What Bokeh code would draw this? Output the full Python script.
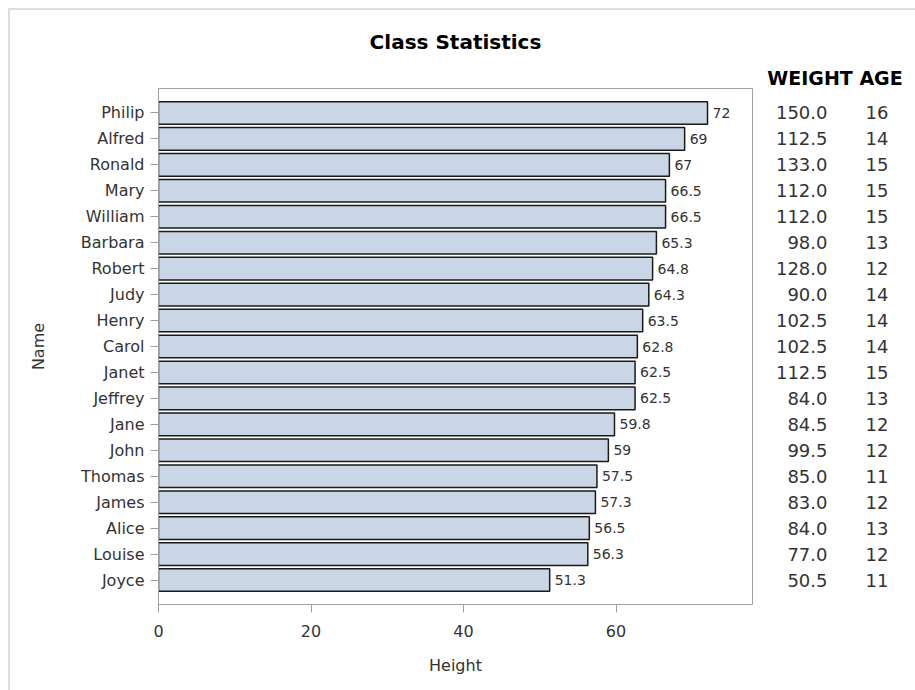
from bokeh.plotting import figure
from bokeh.models import FactorRange, Range1d, FixedTicker, ColumnDataSource, Title
from bokeh.layouts import row, column
from bokeh.core.properties import value
from bokeh.embed import file_html
from bokeh.resources import INLINE

# ---- data ----
names = ["Philip", "Alfred", "Ronald", "Mary", "William", "Barbara", "Robert",
         "Judy", "Henry", "Carol", "Janet", "Jeffrey", "Jane", "John", "Thomas",
         "James", "Alice", "Louise", "Joyce"]
heights = [72, 69, 67, 66.5, 66.5, 65.3, 64.8, 64.3, 63.5, 62.8, 62.5, 62.5,
           59.8, 59, 57.5, 57.3, 56.5, 56.3, 51.3]
weights = [150.0, 112.5, 133.0, 112.0, 112.0, 98.0, 128.0, 90.0, 102.5, 102.5,
           112.5, 84.0, 84.5, 99.5, 85.0, 83.0, 84.0, 77.0, 50.5]
ages = [16, 14, 15, 15, 15, 13, 12, 14, 14, 14, 15, 13, 12, 12, 11, 12, 13, 12, 11]
x_ticks = [0, 20, 40, 60]
title_text = "Class Statistics"
col_headers = ["WEIGHT", "AGE"]

FONT = "DejaVu Sans"
TXT = "#333333"
GRAY = "#a0a0a0"

src = ColumnDataSource(dict(
    name=names,
    height=heights,
    hlabel=[f"{v:g}" for v in heights],
    weight=[f"{w:.1f}" for w in weights],
    age=[str(a) for a in ages],
))

factors = names[::-1]
yr = FactorRange(factors=factors, range_padding=0.0466)

HEAD_H = 50
TOTAL_H = 680 - HEAD_H
TOP, BOTTOM = 78 - HEAD_H, 86
LEFT = 148
MAIN_W, TABLE_W = 744, 161

# ---- title strip ----
head = figure(width=MAIN_W + TABLE_W, height=HEAD_H,
              x_range=Range1d(0, 1), y_range=Range1d(0, 1),
              output_backend="svg", toolbar_location=None,
              x_axis_location=None, y_axis_location=None,
              min_border_left=LEFT, min_border_right=TABLE_W + 2,
              min_border_top=0, min_border_bottom=0)
head.grid.visible = False
head.outline_line_color = None
head.text(x=[0.5], y=[0.38], text=[title_text], text_align="center",
          text_baseline="middle", text_font=value(FONT),
          text_font_size="20px", text_font_style="bold", text_color="#000000")

# ---- main bar chart ----
p = figure(width=MAIN_W, height=TOTAL_H, y_range=yr, x_range=Range1d(0, 77.9),
           output_backend="svg", toolbar_location=None,
           min_border_left=LEFT, min_border_right=2,
           min_border_top=TOP, min_border_bottom=BOTTOM)

p.hbar(y="name", left=0, right="height", height=0.87, source=src,
       fill_color="#CAD5E5", line_color="#1a1a1a", line_width=1.5)
p.text(x="height", y="name", text="hlabel", source=src, x_offset=5,
       text_align="left", text_baseline="middle",
       text_font=value(FONT), text_font_size="14px", text_color=TXT)

p.grid.visible = False
p.outline_line_color = GRAY
p.background_fill_color = "white"
p.border_fill_color = "white"

p.xaxis.ticker = FixedTicker(ticks=x_ticks)
p.xaxis.axis_label = "Height"
p.yaxis.axis_label = "Name"
for ax in (p.xaxis[0], p.yaxis[0]):
    ax.axis_line_color = GRAY
    ax.major_tick_line_color = GRAY
    ax.major_tick_out = 8
    ax.major_tick_in = 0
    ax.minor_tick_line_color = None
    ax.major_label_text_font = FONT
    ax.major_label_text_font_size = "16px"
    ax.major_label_text_color = TXT
    ax.axis_label_text_font = FONT
    ax.axis_label_text_font_size = "16px"
    ax.axis_label_text_font_style = "normal"
    ax.axis_label_text_color = TXT
p.xaxis.major_label_standoff = 12
p.xaxis.axis_label_standoff = 16
p.yaxis.major_label_standoff = 6
p.yaxis.axis_label_standoff = 30

# ---- table panel ----
t = figure(width=TABLE_W, height=TOTAL_H, y_range=yr, x_range=Range1d(754, 915),
           output_backend="svg", toolbar_location=None,
           x_axis_location=None, y_axis_location=None,
           min_border_left=0, min_border_right=0,
           min_border_top=TOP, min_border_bottom=BOTTOM)
t.grid.visible = False
t.outline_line_color = None
t.background_fill_color = "white"
t.border_fill_color = "white"

W_RIGHT, A_RIGHT = 827, 888
t.text(x=W_RIGHT, y="name", text="weight", source=src, text_align="right",
       text_baseline="middle", text_font=value(FONT), text_font_size="18px",
       text_color=TXT)
t.text(x=A_RIGHT, y="name", text="age", source=src, text_align="right",
       text_baseline="middle", text_font=value(FONT), text_font_size="18px",
       text_color=TXT)

t.add_layout(Title(text=" ".join(col_headers), align="center",
                   text_font=FONT, text_font_size="19px",
                   text_font_style="bold", text_color="#000000",
                   standoff=0, offset=-3), "above")

layout = column(head, row(p, t), margin=(8, 0, 0, 8),
                styles={"border-left": "2px solid #dedede",
                        "border-top": "2px solid #dedede"})

open("out.html", "w").write(file_html(layout, INLINE))
